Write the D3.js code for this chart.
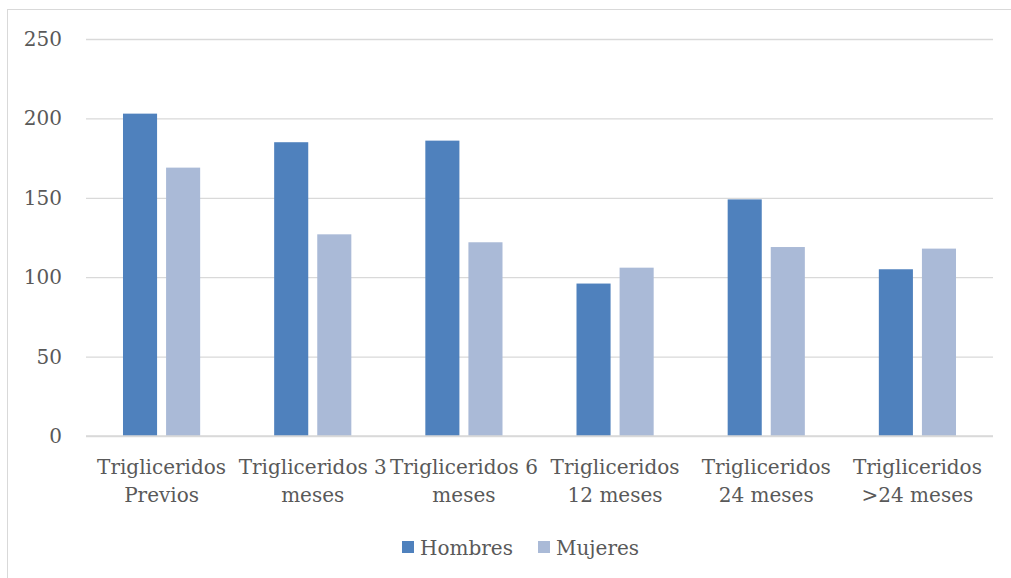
<!DOCTYPE html>
<html>
<head>
<meta charset="utf-8">
<script src="https://cdn.jsdelivr.net/npm/d3@7"></script>
<style>
  html, body { margin: 0; padding: 0; background: #fff; }
  svg { display: block; }
  text { font-family: "DejaVu Serif", "Liberation Serif", serif; fill: #595959; }
</style>
</head>
<body>
<svg id="chart" width="1011" height="578"></svg>
<script>
// Triglicéridos medios por sexo a lo largo del seguimiento
const categories = ["Previos", "3 meses", "6 meses", "12 meses", "24 meses", ">24 meses"];
const categoryLabels = [
  ["Trigliceridos", "Previos"],
  ["Trigliceridos 3", "meses"],
  ["Trigliceridos 6", "meses"],
  ["Trigliceridos", "12 meses"],
  ["Trigliceridos", "24 meses"],
  ["Trigliceridos", ">24 meses"]
];
const seriesNames = ["Hombres", "Mujeres"];
const hombres = [203, 185, 186, 96, 149, 105];
const mujeres = [169, 127, 122, 106, 119, 118];
const yTicks = [0, 50, 100, 150, 200, 250];
const colors = ["#4f81bd", "#aabad7"];

const fontSize = "20px";
const svg = d3.select("#chart");

// chart frame
svg.append("rect")
  .attr("x", 7.5).attr("y", 9.5)
  .attr("width", 1010).attr("height", 580)
  .attr("fill", "none").attr("stroke", "#d9d9d9").attr("stroke-width", 1);

const plot = { left: 86, right: 993, top: 39, bottom: 436 };

const y = d3.scaleLinear().domain([0, 250]).range([plot.bottom, plot.top]);

const x0 = d3.scaleBand().domain(categories).range([plot.left, plot.right])
  .paddingInner(0.4895).paddingOuter(0.2447);
const x1 = d3.scaleBand().domain(seriesNames).range([0, x0.bandwidth()])
  .paddingInner(0.209).paddingOuter(0);

// gridlines
const yAxis = d3.axisLeft(y).tickValues(yTicks).tickSize(-(plot.right - plot.left)).tickPadding(24);
const gy = svg.append("g").attr("transform", `translate(${plot.left},0)`).call(yAxis);
gy.select(".domain").remove();
gy.selectAll(".tick line").attr("stroke", "#d9d9d9").attr("stroke-width", 1.3);
gy.selectAll(".tick text")
  .style("font-family", "'DejaVu Serif', serif")
  .style("font-size", fontSize).attr("fill", "#595959").attr("dy", "0.32em");

// bars
const rows = categories.map((c, i) => ({ cat: c, values: [hombres[i], mujeres[i]] }));
const groups = svg.append("g").selectAll("g").data(rows).join("g")
  .attr("transform", d => `translate(${x0(d.cat)},0)`);
groups.selectAll("rect")
  .data(d => d.values.map((v, j) => ({ name: seriesNames[j], value: v, j })))
  .join("rect")
  .attr("x", d => x1(d.name))
  .attr("width", x1.bandwidth())
  .attr("y", d => y(d.value))
  .attr("height", d => y(0) - y(d.value))
  .attr("fill", d => colors[d.j]);

// baseline
svg.append("line")
  .attr("x1", plot.left).attr("x2", plot.right).attr("y1", y(0)).attr("y2", y(0))
  .attr("stroke", "#d9d9d9").attr("stroke-width", 1.3);

// category labels
const xl = svg.append("g");
categories.forEach((c, i) => {
  const cx = x0(c) + x0.bandwidth() / 2;
  const t = xl.append("text")
    .attr("text-anchor", "middle")
    .style("font-size", fontSize);
  categoryLabels[i].forEach((line, k) => {
    t.append("tspan").attr("x", cx).attr("y", 474 + k * 28).text(line);
  });
});

// legend
const legend = svg.append("g");
const legendX = [402, 538];
seriesNames.forEach((n, i) => {
  legend.append("rect").attr("x", legendX[i]).attr("y", 541)
    .attr("width", 12).attr("height", 12).attr("fill", colors[i]);
  legend.append("text").attr("x", legendX[i] + 18).attr("y", 555)
    .style("font-size", fontSize).text(n);
});
</script>
</body>
</html>
